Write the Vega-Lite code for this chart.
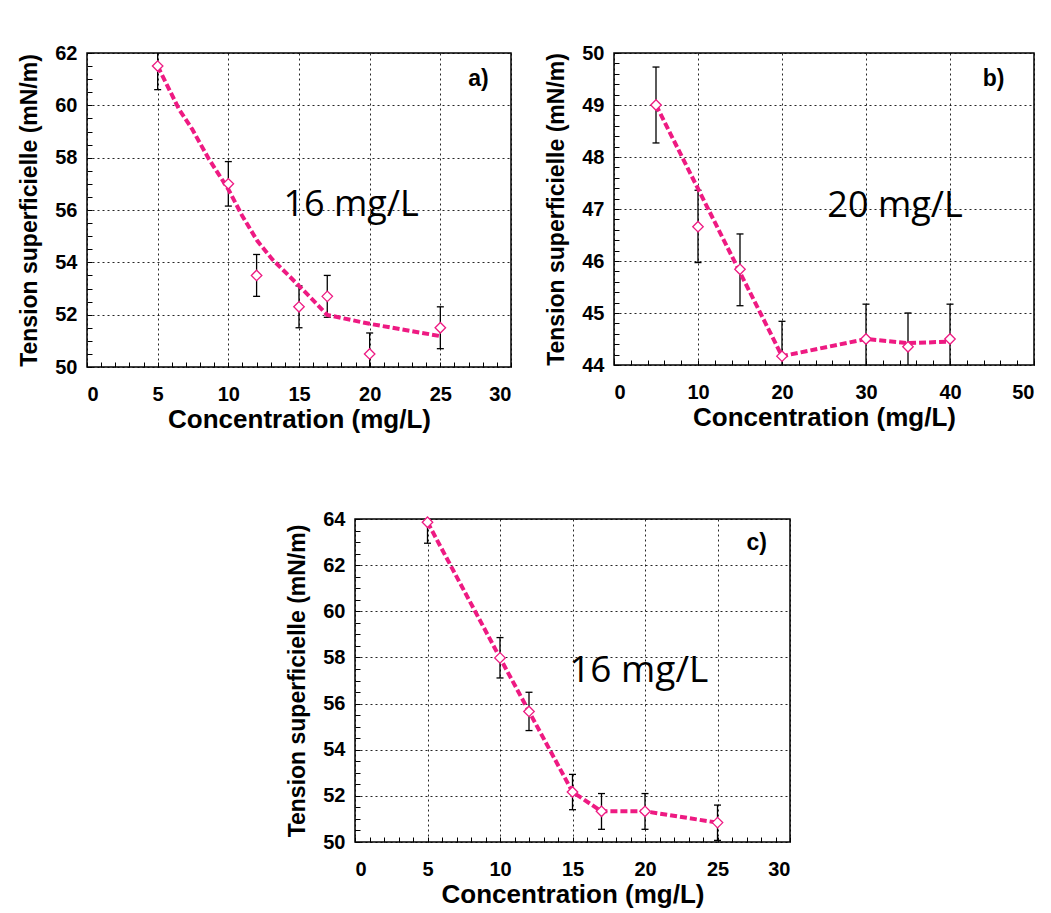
{
  "$schema": "https://vega.github.io/schema/vega-lite/v6.json",
  "background": "white",
  "padding": {"left": 18, "top": 42, "right": 5, "bottom": 5},
  "config": {
    "view": {"stroke": "black", "strokeWidth": 1.5},
    "axis": {
      "labelFont": "Liberation Sans", "labelFontWeight": "bold", "labelFontSize": 20, "labelColor": "black",
      "titleFont": "Liberation Sans", "titleFontWeight": "bold", "titleColor": "black",
      "gridColor": "black", "gridDash": [2, 3], "gridWidth": 1, "gridOpacity": 0.85,
      "tickColor": "black", "tickWidth": 1, "domain": false
    },
    "axisX": {"titleFontSize": 26, "labelPadding": 17, "titlePadding": 2},
    "axisY": {"titleFontSize": 23, "labelPadding": 10, "titlePadding": 13}
  },
  "datasets": {
    "a": [
      {"x": 5, "y": 61.5, "lo": 60.6, "hi": 62.4},
      {"x": 10, "y": 57.0, "lo": 56.15, "hi": 57.85},
      {"x": 12, "y": 53.5, "lo": 52.7, "hi": 54.3},
      {"x": 15, "y": 52.3, "lo": 51.5, "hi": 53.1},
      {"x": 17, "y": 52.7, "lo": 51.9, "hi": 53.5},
      {"x": 20, "y": 50.5, "lo": 49.7, "hi": 51.3},
      {"x": 25, "y": 51.5, "lo": 50.7, "hi": 52.3}
    ],
    "fa": [
      {"x": 5, "y": 61.5}, {"x": 6.5, "y": 59.86}, {"x": 7.44, "y": 59.09}, {"x": 8.62, "y": 57.95},
      {"x": 9.99, "y": 56.8}, {"x": 10.98, "y": 55.78}, {"x": 12.05, "y": 54.82}, {"x": 13.1, "y": 54.12},
      {"x": 14.3, "y": 53.48}, {"x": 15.7, "y": 52.72}, {"x": 17.0, "y": 51.99}, {"x": 20.0, "y": 51.65},
      {"x": 24.9, "y": 51.19}
    ],
    "b": [
      {"x": 5, "y": 49.0, "lo": 48.27, "hi": 49.73},
      {"x": 10, "y": 46.66, "lo": 45.97, "hi": 47.36},
      {"x": 15, "y": 45.84, "lo": 45.14, "hi": 46.52},
      {"x": 20, "y": 44.17, "lo": 43.5, "hi": 44.84},
      {"x": 30, "y": 44.5, "lo": 43.83, "hi": 45.17},
      {"x": 35, "y": 44.35, "lo": 43.7, "hi": 45.0},
      {"x": 40, "y": 44.5, "lo": 43.83, "hi": 45.17}
    ],
    "fb": [
      {"x": 5, "y": 49.0}, {"x": 20, "y": 44.17}, {"x": 30, "y": 44.5}, {"x": 35, "y": 44.42}, {"x": 40, "y": 44.45}
    ],
    "c": [
      {"x": 5, "y": 63.86, "lo": 62.95, "hi": 64.8},
      {"x": 10, "y": 57.98, "lo": 57.11, "hi": 58.86},
      {"x": 12, "y": 55.66, "lo": 54.83, "hi": 56.49},
      {"x": 15, "y": 52.17, "lo": 51.4, "hi": 52.93},
      {"x": 17, "y": 51.33, "lo": 50.55, "hi": 52.1},
      {"x": 20, "y": 51.33, "lo": 50.55, "hi": 52.1},
      {"x": 25, "y": 50.84, "lo": 50.07, "hi": 51.6}
    ],
    "one": [{}]
  },
  "vconcat": [
    {
      "hconcat": [
        {
          "width": 424, "height": 314,
          "resolve": {"axis": {"x": "independent", "y": "independent"}},
          "layer": [
            {
              "data": {"name": "a"},
              "mark": {"type": "rule", "color": "black", "strokeWidth": 1.3, "clip": true},
              "encoding": {
                "x": {"field": "x", "type": "quantitative", "scale": {"domain": [0, 30], "nice": false},
                  "axis": {"orient": "bottom", "values": [0,1,2,3,4,5,6,7,8,9,10,11,12,13,14,15,16,17,18,19,20,21,22,23,24,25,26,27,28,29,30], "labels": false, "grid": false, "tickSize": -5, "title": null}},
                "y": {"field": "lo", "type": "quantitative", "scale": {"domain": [50, 62], "nice": false, "zero": false},
                  "axis": {"orient": "left", "values": [50,50.5,51,51.5,52,52.5,53,53.5,54,54.5,55,55.5,56,56.5,57,57.5,58,58.5,59,59.5,60,60.5,61,61.5,62], "labels": false, "grid": false, "tickSize": -5, "title": null}},
                "y2": {"field": "hi"}
              }
            },
            {
              "data": {"name": "a"},
              "mark": {"type": "tick", "orient": "horizontal", "color": "black", "size": 7, "thickness": 1.3, "clip": true, "opacity": 1},
              "encoding": {"x": {"field": "x", "type": "quantitative", "axis": null}, "y": {"field": "hi", "type": "quantitative", "axis": null}}
            },
            {
              "data": {"name": "a"},
              "mark": {"type": "tick", "orient": "horizontal", "color": "black", "size": 7, "thickness": 1.3, "clip": true, "opacity": 1},
              "encoding": {"x": {"field": "x", "type": "quantitative", "axis": null}, "y": {"field": "lo", "type": "quantitative", "axis": null}}
            },
            {
              "data": {"name": "fa"},
              "mark": {"type": "line", "color": "#EE1A82", "strokeWidth": 4, "strokeDash": [7, 3], "clip": true},
              "encoding": {
                "x": {"field": "x", "type": "quantitative", "axis": {"orient": "bottom", "values": [0,5,10,15,20,25,30], "ticks": false, "grid": true, "title": "Concentration (mg/L)"}},
                "y": {"field": "y", "type": "quantitative", "axis": {"orient": "left", "values": [50,52,54,56,58,60,62], "ticks": false, "grid": true, "title": "Tension superficielle (mN/m)"}}
              }
            },
            {
              "data": {"name": "a"},
              "mark": {"type": "point", "shape": "diamond", "size": 110, "fill": "white", "stroke": "#EE1A82", "strokeWidth": 1.3, "opacity": 1, "filled": false},
              "encoding": {"x": {"field": "x", "type": "quantitative", "axis": null}, "y": {"field": "y", "type": "quantitative", "axis": null}}
            },
            {
              "data": {"name": "one"},
              "mark": {"type": "text", "text": "16 mg/L", "font": "Open Sans", "fontSize": 36, "align": "left", "baseline": "middle", "color": "black"},
              "encoding": {"x": {"datum": 13.9, "axis": null}, "y": {"datum": 56.2, "axis": null}}
            },
            {
              "data": {"name": "one"},
              "mark": {"type": "text", "text": "a)", "font": "Liberation Sans", "fontWeight": "bold", "fontSize": 23, "align": "center", "baseline": "middle", "color": "black"},
              "encoding": {"x": {"datum": 27.7, "axis": null}, "y": {"datum": 61.0, "axis": null}}
            }
          ]
        },
        {
          "width": 420, "height": 312,
          "resolve": {"axis": {"x": "independent", "y": "independent"}},
          "layer": [
            {
              "data": {"name": "b"},
              "mark": {"type": "rule", "color": "black", "strokeWidth": 1.3, "clip": true},
              "encoding": {
                "x": {"field": "x", "type": "quantitative", "scale": {"domain": [0, 50], "nice": false},
                  "axis": {"orient": "bottom", "values": [0,2,4,6,8,10,12,14,16,18,20,22,24,26,28,30,32,34,36,38,40,42,44,46,48,50], "labels": false, "grid": false, "tickSize": -5, "title": null}},
                "y": {"field": "lo", "type": "quantitative", "scale": {"domain": [44, 50], "nice": false, "zero": false},
                  "axis": {"orient": "left", "values": [44,44.2,44.4,44.6,44.8,45,45.2,45.4,45.6,45.8,46,46.2,46.4,46.6,46.8,47,47.2,47.4,47.6,47.8,48,48.2,48.4,48.6,48.8,49,49.2,49.4,49.6,49.8,50], "labels": false, "grid": false, "tickSize": -5, "title": null}},
                "y2": {"field": "hi"}
              }
            },
            {
              "data": {"name": "b"},
              "mark": {"type": "tick", "orient": "horizontal", "color": "black", "size": 7, "thickness": 1.3, "clip": true, "opacity": 1},
              "encoding": {"x": {"field": "x", "type": "quantitative", "axis": null}, "y": {"field": "hi", "type": "quantitative", "axis": null}}
            },
            {
              "data": {"name": "b"},
              "mark": {"type": "tick", "orient": "horizontal", "color": "black", "size": 7, "thickness": 1.3, "clip": true, "opacity": 1},
              "encoding": {"x": {"field": "x", "type": "quantitative", "axis": null}, "y": {"field": "lo", "type": "quantitative", "axis": null}}
            },
            {
              "data": {"name": "fb"},
              "mark": {"type": "line", "color": "#EE1A82", "strokeWidth": 4, "strokeDash": [7, 3], "clip": true},
              "encoding": {
                "x": {"field": "x", "type": "quantitative", "axis": {"orient": "bottom", "values": [0,10,20,30,40,50], "ticks": false, "grid": true, "title": "Concentration (mg/L)"}},
                "y": {"field": "y", "type": "quantitative", "axis": {"orient": "left", "values": [44,45,46,47,48,49,50], "ticks": false, "grid": true, "title": "Tension superficielle (mN/m)"}}
              }
            },
            {
              "data": {"name": "b"},
              "mark": {"type": "point", "shape": "diamond", "size": 110, "fill": "white", "stroke": "#EE1A82", "strokeWidth": 1.3, "opacity": 1, "filled": false},
              "encoding": {"x": {"field": "x", "type": "quantitative", "axis": null}, "y": {"field": "y", "type": "quantitative", "axis": null}}
            },
            {
              "data": {"name": "one"},
              "mark": {"type": "text", "text": "20 mg/L", "font": "Open Sans", "fontSize": 36, "align": "left", "baseline": "middle", "color": "black"},
              "encoding": {"x": {"datum": 25.4, "axis": null}, "y": {"datum": 47.06, "axis": null}}
            },
            {
              "data": {"name": "one"},
              "mark": {"type": "text", "text": "b)", "font": "Liberation Sans", "fontWeight": "bold", "fontSize": 23, "align": "center", "baseline": "middle", "color": "black"},
              "encoding": {"x": {"datum": 45.2, "axis": null}, "y": {"datum": 49.5, "axis": null}}
            }
          ]
        }
      ],
      "spacing": 103,
      "bounds": "flush"
    },
    {
      "hconcat": [
        {
          "width": 203, "height": 10,
          "view": {"stroke": null},
          "data": {"values": []},
          "mark": "text",
          "encoding": {}
        },
        {
          "width": 435, "height": 323,
          "resolve": {"axis": {"x": "independent", "y": "independent"}},
          "layer": [
            {
              "data": {"name": "c"},
              "mark": {"type": "rule", "color": "black", "strokeWidth": 1.3, "clip": true},
              "encoding": {
                "x": {"field": "x", "type": "quantitative", "scale": {"domain": [0, 30], "nice": false},
                  "axis": {"orient": "bottom", "values": [0,1,2,3,4,5,6,7,8,9,10,11,12,13,14,15,16,17,18,19,20,21,22,23,24,25,26,27,28,29,30], "labels": false, "grid": false, "tickSize": -5, "title": null}},
                "y": {"field": "lo", "type": "quantitative", "scale": {"domain": [50, 64], "nice": false, "zero": false},
                  "axis": {"orient": "left", "values": [50,50.5,51,51.5,52,52.5,53,53.5,54,54.5,55,55.5,56,56.5,57,57.5,58,58.5,59,59.5,60,60.5,61,61.5,62,62.5,63,63.5,64], "labels": false, "grid": false, "tickSize": -5, "title": null}},
                "y2": {"field": "hi"}
              }
            },
            {
              "data": {"name": "c"},
              "mark": {"type": "tick", "orient": "horizontal", "color": "black", "size": 7, "thickness": 1.3, "clip": true, "opacity": 1},
              "encoding": {"x": {"field": "x", "type": "quantitative", "axis": null}, "y": {"field": "hi", "type": "quantitative", "axis": null}}
            },
            {
              "data": {"name": "c"},
              "mark": {"type": "tick", "orient": "horizontal", "color": "black", "size": 7, "thickness": 1.3, "clip": true, "opacity": 1},
              "encoding": {"x": {"field": "x", "type": "quantitative", "axis": null}, "y": {"field": "lo", "type": "quantitative", "axis": null}}
            },
            {
              "data": {"name": "c"},
              "mark": {"type": "line", "color": "#EE1A82", "strokeWidth": 4, "strokeDash": [7, 3], "clip": true},
              "encoding": {
                "x": {"field": "x", "type": "quantitative", "axis": {"orient": "bottom", "values": [0,5,10,15,20,25,30], "ticks": false, "grid": true, "title": "Concentration (mg/L)"}},
                "y": {"field": "y", "type": "quantitative", "axis": {"orient": "left", "values": [50,52,54,56,58,60,62,64], "ticks": false, "grid": true, "title": "Tension superficielle (mN/m)"}}
              }
            },
            {
              "data": {"name": "c"},
              "mark": {"type": "point", "shape": "diamond", "size": 110, "fill": "white", "stroke": "#EE1A82", "strokeWidth": 1.3, "opacity": 1, "filled": false},
              "encoding": {"x": {"field": "x", "type": "quantitative", "axis": null}, "y": {"field": "y", "type": "quantitative", "axis": null}}
            },
            {
              "data": {"name": "one"},
              "mark": {"type": "text", "text": "16 mg/L", "font": "Open Sans", "fontSize": 37, "align": "left", "baseline": "middle", "color": "black"},
              "encoding": {"x": {"datum": 14.77, "axis": null}, "y": {"datum": 57.4, "axis": null}}
            },
            {
              "data": {"name": "one"},
              "mark": {"type": "text", "text": "c)", "font": "Liberation Sans", "fontWeight": "bold", "fontSize": 23, "align": "center", "baseline": "middle", "color": "black"},
              "encoding": {"x": {"datum": 27.7, "axis": null}, "y": {"datum": 62.96, "axis": null}}
            }
          ]
        }
      ],
      "spacing": 65,
      "bounds": "flush"
    }
  ],
  "spacing": 75
}
